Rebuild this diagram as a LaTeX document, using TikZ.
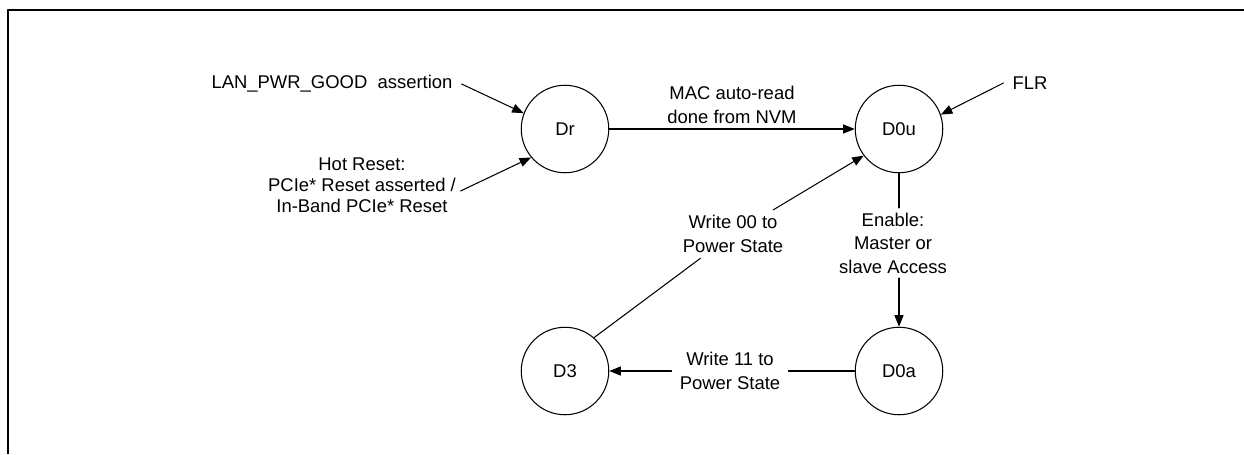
\documentclass[tikz,border=0pt]{standalone}
\usepackage{fontspec}
\setmainfont{Liberation Sans}
\usetikzlibrary{arrows.meta}

\begin{document}
\begin{tikzpicture}[line join = round, line cap = round,>={Triangle[length=2.3mm,width=1.8mm]},x=0.02cm,y=-0.02cm,font=\fontsize{10.5}{13.4}\selectfont,
	state/.style={draw,circle,minimum size=1.75cm,inner sep=0pt,line width=.6pt},
	lbl/.style={align=center,inner sep=2.5pt}]
			\useasboundingbox (0,0) rectangle (1244,454);
			\draw[line width=1.2pt,line cap=butt] (1244,10)--(8,10)--(8,454);
			% states
			\node[state] (Dr) at (565,129) {Dr};
			\node[state] (D0u) at (899,129) {D0u};
			\node[state] (D3) at (565,371) {D3};
			\node[state] (D0a) at (899,371) {D0a};
			% labels
			\node[lbl,inner xsep=5pt] (lan) at (332,84) {LAN\_PWR\_GOOD~ assertion};
			\node[lbl,font=\fontsize{10.5}{12}\selectfont] (hot) at (362,185) {Hot Reset:\\PCIe* Reset asserted /\\In-Band PCIe* Reset};
			\node[lbl,inner xsep=5pt] (flr) at (1030,83) {FLR};
			\node[lbl] (en) at (893,243) {Enable:\\Master or\\slave Access};
			\node[lbl,inner sep=3pt] (w00) at (733,234) {Write 00 to\\Power State};
			\node[lbl,inner xsep=4.5pt] (w11) at (730,371) {Write 11 to\\Power State};
			% transitions
			\begin{scope}[line width=.6pt]
				\draw[->] (lan.east)--(Dr.159);
				\draw[->] ([yshift=-3.4pt]hot.east)--(Dr.220);
				\draw[->] (flr.west)--(D0u.19);
				\draw[->] (Dr)--node[above,align=center,inner sep=3pt]{MAC auto-read\\done from NVM}(D0u);
				\draw (D0u.south)--(D0u.south |- en.north);
				\draw[->] (D0a.north |- en.south)--(D0a.north);
				\draw (D0a)--(w11);
				\draw[->] (w11)--(D3);
				\draw (D3.49)--(w00);
				\draw[->] (w00)--(D0u.217);
			\end{scope}
	\end{tikzpicture}
\end{document}
